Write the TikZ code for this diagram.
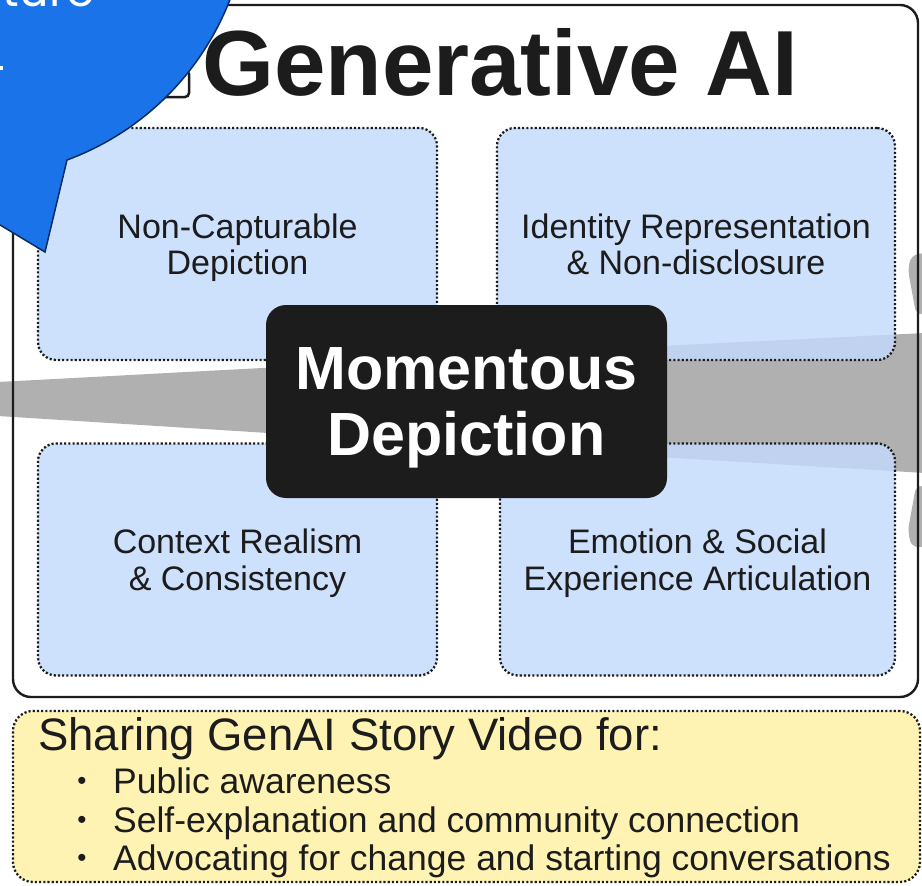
\documentclass[tikz,border=0pt]{standalone}
\usepackage{fontspec}
\setmainfont{Liberation Sans}
\newfontfamily\bubblefont{Poppins}
\definecolor{qblue}{RGB}{196,218,252}
\definecolor{ylw}{RGB}{255,243,180}
\definecolor{bandgrey}{RGB}{176,176,176}
\definecolor{ink}{RGB}{28,28,28}
\definecolor{bubblue}{RGB}{26,115,232}
\definecolor{bubedge}{RGB}{10,45,95}
\begin{document}
\begin{tikzpicture}[x=1pt,y=-1pt,
  dotline/.style={draw=ink, dash pattern=on 2.1pt off 2.1pt, line width=2.3pt},
  quad/.style={dotline, fill=qblue, fill opacity=0.83, text opacity=1,
    rounded corners=18pt, minimum height=232pt, inner sep=0pt,
    align=center, text depth=0pt, font=\fontsize{34}{36.5}\selectfont, text=ink},
  outerbox/.style={draw=ink, line width=2.4pt, rounded corners=18pt,
    minimum width=905pt, minimum height=692pt, inner sep=0pt},
  mdnode/.style={fill=ink, rounded corners=20pt, minimum width=401pt,
    minimum height=193pt, inner sep=0pt, align=center, text=white, text depth=0pt,
    font=\bfseries\fontsize{61}{66}\selectfont},
  share/.style={dotline, fill=ylw, rounded corners=20pt, minimum width=907pt,
    minimum height=171pt, inner sep=0pt},
  band/.style={fill=bandgrey},
  bubble/.style={fill=bubblue, draw=bubedge, line width=1.5pt},
  ytext/.style={anchor=base west, inner sep=0pt, text=ink},
  bul/.style={anchor=base, inner sep=0pt, text=ink, font=\fontsize{26}{26}\selectfont},
]
\useasboundingbox (0,0) rectangle (922,886);
\clip (0,0) rectangle (922,886);
\fill[white] (0,0) rectangle (922,886);

% grey bands passing through the central node
\fill[band] (-2,382) -- (300,366) -- (300,435) -- (-2,416) -- cycle;
\fill[band] (640,347) -- (925,333) -- (925,473) -- (640,456) -- cycle;
\fill[band, rounded corners=6pt] (925,252) -- (911,256) -- (908,270) -- (916,314) -- (925,314) -- cycle;
\fill[band, rounded corners=6pt] (925,486) -- (916,486) -- (908,530) -- (911,546) -- (925,548) -- cycle;

% four quadrants
\node[quad, minimum width=399pt] (tl) at (237.5,244) {Non-Capturable\\Depiction};
\node[quad, minimum width=398pt] (tr) at (696,244) {Identity Representation\\\& Non-disclosure};
\node[quad, minimum width=399pt] (bl) at (237.5,559.5) {Context Realism\\\& Consistency};
\node[quad, minimum width=395pt] (br) at (697.5,559.5) {Emotion \& Social\\Experience Articulation};

% outer Generative AI frame
\node[outerbox] (gen) at (465.5,351) {};
\node[anchor=base west, inner sep=0pt, text=ink, font=\bfseries\fontsize{92.5}{92.5}\selectfont] (title) at (202,95) {Generative AI};
\draw[ink, line width=2.5pt, rounded corners=4pt] (160,70) rectangle (189,97);

% central node
\node[mdnode] (md) at (466.5,401.5) {Momentous\\Depiction};

% bottom sharing box
\node[share] (sh) at (466.5,796.5) {};
\node[ytext, font=\fontsize{45.5}{45.5}\selectfont] (shtitle) at (38,750) {Sharing GenAI Story Video for:};
\node[bul] (b1) at (82,789) {•};
\node[bul] (b2) at (82,828) {•};
\node[bul] (b3) at (82,866) {•};
\node[ytext, font=\fontsize{35.5}{35.5}\selectfont] (t1) at (113,793) {Public awareness};
\node[ytext, font=\fontsize{35.5}{35.5}\selectfont] (t2) at (113,832) {Self-explanation and community connection};
\node[ytext, font=\fontsize{35.5}{35.5}\selectfont] (t3) at (113,870) {Advocating for change and starting conversations};

% blue speech bubble (top left)
\filldraw[bubble] (45,252) -- (67,160) arc[start angle=-69.65, end angle=257.6, radius=279pt] -- cycle;
\node[anchor=base east, inner sep=0pt, text=white, font=\bubblefont\fontsize{46}{46}\selectfont] (btext) at (95,6) {ture};
\fill[white] (0,66) rectangle (3,70);
\end{tikzpicture}
\end{document}
